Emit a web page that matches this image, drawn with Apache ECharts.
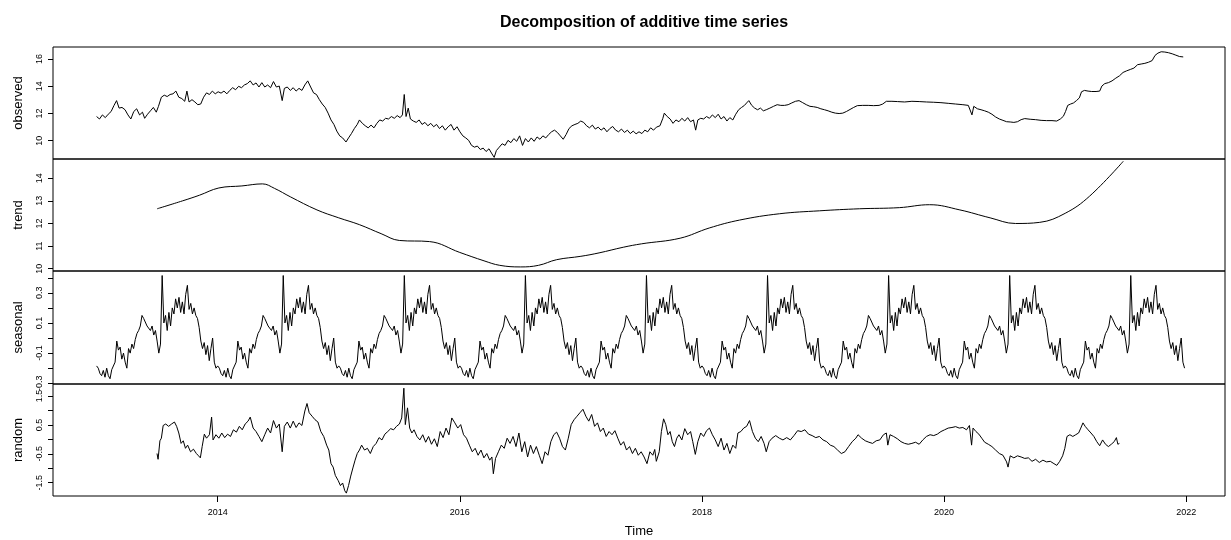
<!DOCTYPE html>
<html><head><meta charset="utf-8">
<script src="https://cdn.jsdelivr.net/npm/echarts@6/dist/echarts.min.js"></script>
<style>html,body{margin:0;padding:0;background:#fff}#chart{width:1231px;height:540px}</style>
</head><body><div id="chart"></div>
<script>
// ---------------- DATA ----------------
const chartTitle = 'Decomposition of additive time series';
const xAxisTitle = 'Time';
const panelNames = ['observed', 'trend', 'seasonal', 'random'];
const xTickValues = [2014, 2016, 2018, 2020, 2022];

const observedTicks = [10, 12, 14, 16];
const trendTicks = [10, 11, 12, 13, 14];
const seasonalTicks = [-0.3, -0.2, -0.1, 0, 0.1, 0.2, 0.3, 0.4];
const seasonalLabels = [-0.3, -0.1, 0.1, 0.3];
const randomTicks = [-1.5, -1, -0.5, 0, 0.5, 1, 1.5];
const randomLabels = [-1.5, -0.5, 0.5, 1.5];

// observed: [decimal year, value]
const observed = [
[2013.000,11.77],[2013.024,11.59],[2013.048,11.89],[2013.072,11.69],[2013.096,11.94],[2013.120,12.14],[2013.144,12.59],[2013.165,12.94],
[2013.186,12.39],[2013.210,12.44],[2013.235,12.27],[2013.259,11.89],[2013.283,11.59],[2013.307,12.14],[2013.331,12.34],[2013.355,11.89],
[2013.379,12.09],[2013.397,11.64],[2013.421,11.94],[2013.445,12.19],[2013.469,12.44],[2013.493,12.09],[2013.511,12.52],[2013.535,13.19],
[2013.559,13.34],[2013.583,13.24],[2013.607,13.39],[2013.631,13.44],[2013.655,13.64],[2013.679,13.19],[2013.704,13.09],[2013.728,12.89],
[2013.746,13.64],[2013.764,12.84],[2013.788,13.01],[2013.812,12.84],[2013.836,12.64],[2013.860,12.69],[2013.884,13.19],[2013.908,13.51],
[2013.932,13.39],[2013.956,13.64],[2013.980,13.44],[2014.004,13.59],[2014.028,13.49],[2014.052,13.64],[2014.076,13.44],[2014.100,13.69],
[2014.124,13.89],[2014.148,13.74],[2014.173,13.99],[2014.197,13.89],[2014.221,14.09],[2014.245,14.19],[2014.269,14.39],[2014.293,14.09],
[2014.317,14.24],[2014.341,13.94],[2014.365,14.26],[2014.389,13.94],[2014.413,14.09],[2014.437,13.89],[2014.461,14.34],[2014.485,13.94],
[2014.509,14.01],[2014.533,12.94],[2014.551,13.84],[2014.575,13.94],[2014.600,13.69],[2014.624,13.89],[2014.648,13.64],[2014.672,13.84],
[2014.696,13.69],[2014.720,14.09],[2014.744,14.39],[2014.768,13.94],[2014.792,13.51],[2014.816,13.39],[2014.840,13.01],[2014.864,12.69],
[2014.888,12.44],[2014.912,12.02],[2014.936,11.52],[2014.960,11.19],[2014.984,10.70],[2015.008,10.35],[2015.032,10.20],[2015.060,9.90],
[2015.081,10.20],[2015.105,10.52],[2015.129,10.89],[2015.153,11.19],[2015.171,11.52],[2015.195,11.27],[2015.219,11.09],[2015.243,10.94],
[2015.267,11.14],[2015.291,10.94],[2015.315,11.27],[2015.339,11.52],[2015.363,11.44],[2015.387,11.64],[2015.411,11.59],[2015.435,11.77],
[2015.459,11.64],[2015.483,11.84],[2015.507,11.69],[2015.526,11.89],[2015.541,13.39],[2015.556,11.77],[2015.574,12.39],[2015.592,11.59],
[2015.616,11.44],[2015.640,11.34],[2015.664,11.52],[2015.688,11.19],[2015.712,11.34],[2015.736,11.09],[2015.760,11.27],[2015.784,11.02],
[2015.808,11.19],[2015.832,10.89],[2015.856,11.09],[2015.880,10.77],[2015.904,11.02],[2015.928,11.19],[2015.952,10.77],[2015.977,11.02],
[2016.001,10.65],[2016.025,10.35],[2016.049,10.20],[2016.073,10.02],[2016.097,9.65],[2016.121,9.52],[2016.145,9.60],[2016.169,9.35],
[2016.193,9.45],[2016.217,9.20],[2016.241,9.40],[2016.266,9.02],[2016.284,8.77],[2016.302,9.27],[2016.326,9.52],[2016.350,9.77],
[2016.374,9.65],[2016.398,10.02],[2016.422,9.85],[2016.446,10.15],[2016.470,9.95],[2016.494,10.35],[2016.518,9.65],[2016.542,10.15],
[2016.566,9.90],[2016.590,10.20],[2016.614,9.95],[2016.638,10.27],[2016.662,10.10],[2016.686,10.35],[2016.710,10.20],[2016.734,10.45],
[2016.758,10.65],[2016.782,10.77],[2016.806,10.60],[2016.830,10.35],[2016.854,10.10],[2016.878,10.45],[2016.902,10.89],[2016.926,11.09],
[2016.951,11.19],[2016.975,11.27],[2016.999,11.44],[2017.023,11.34],[2017.047,11.09],[2017.071,10.94],[2017.095,11.14],[2017.119,10.85],
[2017.143,10.99],[2017.167,10.77],[2017.191,10.94],[2017.215,10.65],[2017.239,10.89],[2017.263,11.04],[2017.287,10.77],[2017.311,10.65],
[2017.335,10.85],[2017.360,10.60],[2017.384,10.77],[2017.408,10.52],[2017.432,10.70],[2017.456,10.50],[2017.480,10.65],[2017.504,10.52],
[2017.528,10.77],[2017.552,10.65],[2017.576,10.94],[2017.600,10.77],[2017.624,10.99],[2017.653,11.09],[2017.677,11.64],[2017.689,12.02],
[2017.713,11.77],[2017.737,11.59],[2017.761,11.27],[2017.785,11.52],[2017.810,11.39],[2017.834,11.64],[2017.858,11.44],[2017.882,11.69],
[2017.906,11.39],[2017.930,11.52],[2017.948,10.77],[2017.966,11.52],[2017.990,11.64],[2018.014,11.59],[2018.038,11.77],[2018.062,11.64],
[2018.086,11.89],[2018.110,11.69],[2018.134,11.94],[2018.158,11.59],[2018.182,11.77],[2018.206,11.44],[2018.230,11.69],[2018.255,11.52],
[2018.279,11.94],[2018.303,12.27],[2018.327,12.44],[2018.351,12.59],[2018.369,12.77],[2018.387,12.94],[2018.411,12.59],[2018.435,12.39],
[2018.459,12.27],[2018.483,12.39],[2018.507,12.19],[2018.531,12.27],[2018.561,12.39],[2018.591,12.52],[2018.621,12.64],[2018.651,12.59],
[2018.682,12.59],[2018.712,12.64],[2018.742,12.77],[2018.772,12.89],[2018.802,12.94],[2018.832,12.79],[2018.862,12.64],[2018.892,12.52],
[2018.922,12.49],[2018.952,12.44],[2018.982,12.34],[2019.012,12.27],[2019.042,12.19],[2019.072,12.09],[2019.102,12.02],[2019.133,11.99],
[2019.163,12.02],[2019.193,12.14],[2019.223,12.29],[2019.253,12.44],[2019.283,12.57],[2019.328,12.59],[2019.373,12.59],[2019.418,12.57],
[2019.463,12.59],[2019.493,12.69],[2019.523,12.89],[2019.569,12.89],[2019.614,12.87],[2019.674,12.84],[2019.734,12.89],[2019.794,12.87],
[2019.854,12.84],[2019.914,12.82],[2019.974,12.79],[2020.034,12.74],[2020.095,12.69],[2020.155,12.64],[2020.200,12.59],[2020.230,11.89],
[2020.245,12.52],[2020.275,12.34],[2020.305,12.27],[2020.335,12.19],[2020.365,12.09],[2020.395,11.94],[2020.425,11.74],[2020.456,11.59],
[2020.486,11.49],[2020.516,11.39],[2020.546,11.37],[2020.576,11.34],[2020.606,11.39],[2020.636,11.54],[2020.666,11.62],[2020.711,11.57],
[2020.756,11.54],[2020.801,11.49],[2020.846,11.47],[2020.891,11.47],[2020.930,11.44],[2020.960,11.59],[2020.985,11.79],[2021.003,12.14],
[2021.021,12.59],[2021.045,12.69],[2021.069,12.77],[2021.093,12.94],[2021.117,13.14],[2021.135,13.59],[2021.159,13.69],[2021.189,13.64],
[2021.219,13.61],[2021.255,13.61],[2021.285,13.64],[2021.303,14.01],[2021.327,14.19],[2021.357,14.26],[2021.387,14.39],[2021.418,14.59],
[2021.448,14.76],[2021.478,15.01],[2021.508,15.13],[2021.538,15.23],[2021.568,15.33],[2021.598,15.58],[2021.628,15.63],[2021.658,15.68],
[2021.688,15.76],[2021.718,15.88],[2021.742,16.26],[2021.766,16.43],[2021.793,16.53],[2021.823,16.51],[2021.853,16.46],[2021.884,16.38],
[2021.914,16.28],[2021.944,16.18],[2021.975,16.15]
];

// trend: [decimal year, value]
const trend = [
[2013.50,12.65],[2013.71,13.00],[2013.85,13.25],[2014.01,13.57],[2014.20,13.66],[2014.37,13.75],[2014.47,13.55],[2014.60,13.18],
[2014.82,12.60],[2015.00,12.25],[2015.17,11.95],[2015.35,11.55],[2015.50,11.25],[2015.75,11.20],[2016.00,10.72],[2016.20,10.35],
[2016.33,10.15],[2016.50,10.08],[2016.65,10.15],[2016.80,10.40],[2017.00,10.55],[2017.15,10.70],[2017.35,10.95],[2017.50,11.10],
[2017.82,11.35],[2018.06,11.80],[2018.31,12.15],[2018.64,12.43],[2018.97,12.56],[2019.30,12.65],[2019.63,12.70],[2019.88,12.83],
[2020.13,12.60],[2020.38,12.25],[2020.59,12.00],[2020.79,12.05],[2021.00,12.45],[2021.20,13.20],[2021.48,14.75]
];

// seasonal: one year's repeating pattern (72 steps per year), and the years it covers
const seasonalPattern = [
-0.185,-0.20,-0.235,-0.25,-0.215,-0.26,-0.20,-0.25,-0.27,-0.21,-0.215,-0.16,
-0.02,-0.08,-0.06,-0.14,-0.10,-0.16,-0.20,-0.07,-0.10,-0.04,-0.07,-0.01,
0.03,0.05,0.08,0.15,0.13,0.14,0.08,0.09,0.05,0.08,0.02,0.05,
-0.02,-0.10,-0.04,0.415,0.10,0.15,0.05,0.17,0.08,0.20,0.16,0.26,
0.20,0.27,0.17,0.24,0.16,0.29,0.35,0.19,0.23,0.16,0.20,0.15,
0.13,0.07,-0.02,-0.07,-0.03,-0.11,-0.05,-0.15,-0.07,0.00,-0.16,-0.20
];
const seasonalYears = [2013, 2014, 2015, 2016, 2017, 2018, 2019, 2020, 2021];

// random: [decimal year, value]
const random = [
[2013.499,-0.49],[2013.508,-0.69],[2013.523,-0.05],[2013.535,0.04],[2013.550,0.48],[2013.571,0.53],[2013.595,0.45],[2013.619,0.53],
[2013.643,0.60],[2013.661,0.45],[2013.679,0.22],[2013.698,-0.14],[2013.716,-0.05],[2013.734,-0.31],[2013.752,-0.20],[2013.776,-0.43],
[2013.800,-0.34],[2013.824,-0.49],[2013.842,-0.57],[2013.857,-0.64],[2013.872,-0.25],[2013.890,0.18],[2013.908,0.04],[2013.932,0.16],
[2013.950,0.77],[2013.962,-0.02],[2013.986,0.16],[2014.010,0.04],[2014.034,0.22],[2014.058,0.06],[2014.082,0.18],[2014.106,0.10],
[2014.130,0.33],[2014.155,0.25],[2014.179,0.45],[2014.203,0.33],[2014.227,0.53],[2014.251,0.63],[2014.269,0.77],[2014.293,0.39],
[2014.317,0.27],[2014.341,0.10],[2014.365,-0.08],[2014.389,0.16],[2014.413,0.39],[2014.437,0.22],[2014.461,0.65],[2014.485,0.39],
[2014.509,0.53],[2014.533,-0.43],[2014.551,0.45],[2014.575,0.60],[2014.600,0.39],[2014.624,0.63],[2014.648,0.41],[2014.672,0.57],
[2014.696,0.48],[2014.720,0.98],[2014.738,1.24],[2014.756,0.92],[2014.780,0.80],[2014.804,0.68],[2014.828,0.60],[2014.852,0.27],
[2014.876,0.10],[2014.900,-0.20],[2014.918,-0.37],[2014.936,-0.84],[2014.954,-0.96],[2014.972,-1.25],[2014.996,-1.43],[2015.014,-1.60],
[2015.032,-1.51],[2015.050,-1.78],[2015.063,-1.86],[2015.081,-1.60],[2015.099,-1.27],[2015.117,-0.99],[2015.135,-0.72],[2015.153,-0.49],
[2015.171,-0.37],[2015.189,-0.20],[2015.213,-0.37],[2015.237,-0.31],[2015.261,-0.49],[2015.285,-0.25],[2015.309,-0.14],[2015.333,0.06],
[2015.357,-0.02],[2015.381,0.18],[2015.405,0.27],[2015.429,0.37],[2015.453,0.33],[2015.477,0.45],[2015.501,0.53],[2015.520,0.74],
[2015.538,1.77],[2015.550,0.51],[2015.568,1.09],[2015.586,0.39],[2015.604,0.22],[2015.622,0.33],[2015.646,0.10],[2015.670,-0.02],
[2015.694,0.16],[2015.718,-0.10],[2015.742,0.10],[2015.766,-0.17],[2015.790,0.02],[2015.814,-0.25],[2015.838,0.27],[2015.862,0.06],
[2015.886,0.39],[2015.910,0.16],[2015.934,0.74],[2015.959,0.57],[2015.983,0.39],[2016.007,0.51],[2016.031,0.16],[2016.055,0.04],
[2016.079,-0.20],[2016.103,-0.43],[2016.127,-0.31],[2016.151,-0.55],[2016.175,-0.37],[2016.199,-0.64],[2016.223,-0.49],[2016.247,-0.72],
[2016.265,-0.61],[2016.277,-1.19],[2016.295,-0.66],[2016.319,-0.43],[2016.343,-0.20],[2016.367,-0.31],[2016.391,0.04],[2016.415,-0.14],
[2016.440,0.10],[2016.464,-0.25],[2016.488,0.22],[2016.512,-0.43],[2016.536,-0.08],[2016.560,-0.61],[2016.584,-0.20],[2016.608,-0.49],
[2016.632,-0.25],[2016.656,-0.55],[2016.680,-0.84],[2016.704,-0.43],[2016.728,-0.55],[2016.752,-0.08],[2016.776,0.16],[2016.800,0.25],
[2016.824,0.04],[2016.848,-0.25],[2016.872,-0.37],[2016.896,0.04],[2016.920,0.51],[2016.944,0.68],[2016.968,0.80],[2016.992,0.92],
[2017.017,1.04],[2017.041,0.80],[2017.065,0.63],[2017.089,0.86],[2017.113,0.45],[2017.137,0.57],[2017.161,0.27],[2017.185,0.39],
[2017.209,0.10],[2017.233,0.27],[2017.257,0.16],[2017.281,0.30],[2017.305,0.04],[2017.329,-0.20],[2017.353,-0.08],[2017.377,-0.37],
[2017.402,-0.25],[2017.426,-0.49],[2017.450,-0.31],[2017.474,-0.55],[2017.498,-0.43],[2017.522,-0.61],[2017.546,-0.84],[2017.570,-0.43],
[2017.594,-0.55],[2017.610,-0.35],[2017.623,-0.76],[2017.647,-0.43],[2017.665,0.27],[2017.683,0.71],[2017.701,0.51],[2017.719,0.16],
[2017.737,0.27],[2017.755,-0.08],[2017.773,-0.25],[2017.792,0.04],[2017.810,0.16],[2017.834,-0.02],[2017.858,0.37],[2017.882,0.16],
[2017.906,0.27],[2017.924,-0.08],[2017.945,-0.52],[2017.966,-0.08],[2017.990,0.22],[2018.014,0.10],[2018.038,0.30],[2018.062,0.39],
[2018.086,0.16],[2018.110,-0.02],[2018.134,-0.25],[2018.158,0.04],[2018.182,-0.37],[2018.206,-0.14],[2018.230,-0.49],[2018.255,-0.20],
[2018.279,-0.31],[2018.297,0.22],[2018.321,0.27],[2018.345,0.39],[2018.369,0.45],[2018.393,0.65],[2018.417,0.27],[2018.441,0.04],
[2018.465,-0.08],[2018.489,0.10],[2018.513,-0.14],[2018.531,-0.43],[2018.555,-0.08],[2018.579,0.04],[2018.609,0.13],[2018.639,0.04],
[2018.669,-0.02],[2018.700,0.06],[2018.730,-0.02],[2018.760,0.13],[2018.790,0.30],[2018.820,0.27],[2018.850,0.33],[2018.880,0.18],
[2018.910,0.13],[2018.940,0.06],[2018.970,0.10],[2019.000,-0.02],[2019.030,-0.08],[2019.060,-0.20],[2019.090,-0.25],[2019.120,-0.37],
[2019.151,-0.49],[2019.181,-0.43],[2019.211,-0.25],[2019.241,-0.08],[2019.271,0.04],[2019.289,0.16],[2019.319,0.04],[2019.349,-0.05],
[2019.379,-0.10],[2019.409,-0.14],[2019.439,-0.05],[2019.469,-0.02],[2019.499,0.16],[2019.523,0.22],[2019.535,-0.20],[2019.553,0.16],
[2019.583,0.10],[2019.614,0.02],[2019.644,-0.08],[2019.674,-0.14],[2019.704,-0.17],[2019.734,-0.14],[2019.764,-0.10],[2019.794,-0.17],
[2019.824,-0.02],[2019.854,0.10],[2019.884,0.16],[2019.914,0.13],[2019.944,0.18],[2019.974,0.27],[2020.004,0.33],[2020.034,0.39],
[2020.065,0.41],[2020.095,0.44],[2020.125,0.39],[2020.155,0.41],[2020.185,0.33],[2020.209,0.48],[2020.227,-0.20],[2020.239,0.39],
[2020.263,0.27],[2020.287,0.18],[2020.311,0.04],[2020.335,-0.10],[2020.365,-0.17],[2020.395,-0.25],[2020.425,-0.37],[2020.456,-0.49],
[2020.486,-0.55],[2020.516,-0.78],[2020.528,-0.96],[2020.546,-0.57],[2020.576,-0.64],[2020.606,-0.57],[2020.636,-0.61],[2020.666,-0.66],
[2020.696,-0.64],[2020.726,-0.76],[2020.756,-0.69],[2020.786,-0.80],[2020.816,-0.72],[2020.846,-0.78],[2020.877,-0.76],[2020.907,-0.84],
[2020.931,-0.90],[2020.955,-0.76],[2020.979,-0.57],[2020.997,-0.31],[2021.015,0.10],[2021.039,0.16],[2021.063,0.10],[2021.087,0.16],
[2021.111,0.22],[2021.129,0.39],[2021.147,0.57],[2021.165,0.45],[2021.189,0.33],[2021.213,0.22],[2021.237,0.10],[2021.261,-0.08],
[2021.285,-0.22],[2021.309,-0.02],[2021.333,-0.17],[2021.357,-0.25],[2021.381,-0.17],[2021.405,-0.08],[2021.423,0.06],[2021.435,-0.17],
[2021.448,-0.14]
];

// ---------------- CHART ----------------
const seasonal = [];
seasonalYears.forEach(y => seasonalPattern.forEach((v, i) => seasonal.push([y + i / seasonalPattern.length, v])));

const FONT = 'Liberation Sans, Arial, sans-serif';
const panelData = [observed, trend, seasonal, random];
const yRanges = [[8.65, 16.88], [9.90, 14.85], [-0.305, 0.445], [-1.96, 1.915]];
const yTicks = [observedTicks, trendTicks, seasonalTicks, randomTicks];
const yLabels = [observedTicks, trendTicks, seasonalLabels, randomLabels];
const yDecimals = [0, 0, 1, 1];
const tops = [47, 159, 271, 384];
const heights = [112, 112, 113, 112];

const grids = [], xAxes = [], yAxes = [], series = [];
for (let i = 0; i < 4; i++) {
  grids.push({left: 53, right: 6, top: tops[i], height: heights[i], show: true,
    borderColor: '#000', borderWidth: 1, backgroundColor: 'transparent', containLabel: false});
  const bottom = i === 3;
  xAxes.push({type: 'value', gridIndex: i, min: 2012.64, max: 2022.32, show: bottom,
    position: 'bottom',
    name: bottom ? xAxisTitle : '', nameLocation: 'middle', nameGap: 29,
    nameTextStyle: {fontSize: 13, color: '#000', fontFamily: FONT},
    axisLine: {show: false, onZero: false},
    axisTick: {show: true, length: 6, lineStyle: {color: '#000', width: 1}, customValues: xTickValues},
    axisLabel: {show: true, fontSize: 9, color: '#000', fontFamily: FONT, margin: 12,
      customValues: xTickValues, formatter: v => String(Math.round(v))},
    splitLine: {show: false}});
  const dec = yDecimals[i];
  yAxes.push({type: 'value', gridIndex: i, min: yRanges[i][0], max: yRanges[i][1],
    position: 'left',
    name: panelNames[i], nameLocation: 'middle', nameGap: 28, nameRotate: 90,
    nameTextStyle: {fontSize: 13, color: '#000', fontFamily: FONT},
    axisLine: {show: false, onZero: false},
    axisTick: {show: true, length: 5, lineStyle: {color: '#000', width: 1}, customValues: yTicks[i]},
    axisLabel: {show: true, rotate: 90, fontSize: 9, color: '#000', fontFamily: FONT, margin: 9,
      customValues: yLabels[i], formatter: v => Number(v).toFixed(dec)},
    splitLine: {show: false}});
  series.push({type: 'line', xAxisIndex: i, yAxisIndex: i, data: panelData[i],
    showSymbol: false, symbol: 'none', silent: true,
    smooth: i === 1 ? 0.4 : false,
    lineStyle: {color: '#000', width: 1}});
}

const chart = echarts.init(document.getElementById('chart'), null, {renderer: 'canvas'});
chart.setOption({
  animation: false,
  backgroundColor: '#fff',
  title: {text: chartTitle, left: 639, top: 10, textAlign: 'center',
    textStyle: {fontSize: 16, fontWeight: 'bold', color: '#000', fontFamily: FONT}},
  grid: grids, xAxis: xAxes, yAxis: yAxes, series: series
});
</script></body></html>
